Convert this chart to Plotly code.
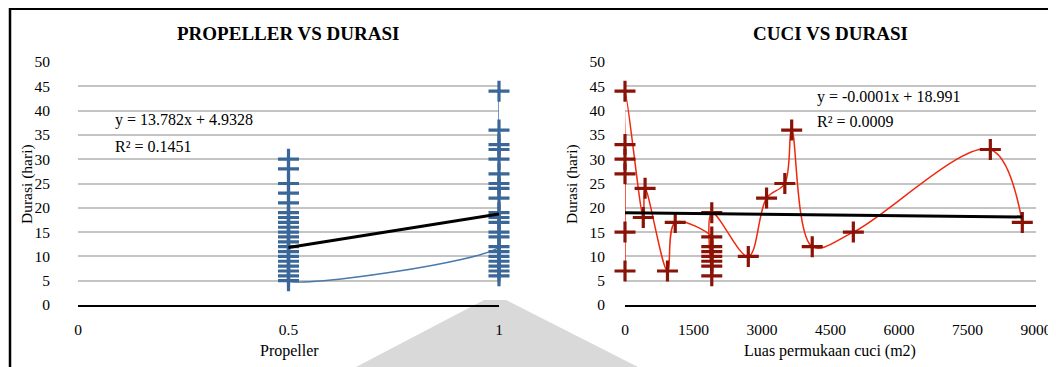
import plotly.graph_objects as go

W, H = 1056, 367
OX, OY = 8, 8  # page body margin offset

# ---------------- data ----------------
prop_x_half = [0.5] * 20
prop_y_half = [30, 28, 25, 23, 21, 19, 18, 17, 16, 15, 14, 13, 12, 11, 10, 9, 8, 7, 6, 5]
prop_x_one = [1] * 21
prop_y_one = [12, 14, 15, 17, 18, 19, 22, 24, 25, 27, 30, 32, 33, 36, 44, 11, 10, 9, 8, 7, 6]
prop_x = prop_x_half + prop_x_one
prop_y = prop_y_half + prop_y_one
prop_slope, prop_intercept = 13.782, 4.9328

cuci_x = [0, 0, 0, 0, 0, 0, 400, 440, 930, 1100,
          1900, 1900, 1900, 1900, 1900, 1900, 1900, 1900,
          2700, 3100, 3500, 3650, 4100, 5000, 8000, 8700]
cuci_y = [7, 15, 27, 30, 33, 44, 18, 24, 7, 17,
          14, 12, 11, 10, 9, 8, 6, 19,
          10, 22, 25, 36, 12, 15, 32, 17]
cuci_slope, cuci_intercept = -0.0001, 18.991

y_ticks = list(range(0, 55, 5))
prop_ticks = [0, 0.5, 1]
prop_ticktext = ["0", "0.5", "1"]
cuci_ticks = [0, 1500, 3000, 4500, 6000, 7500, 9000]

# ---------------- layout helpers ----------------
def px_x(p):
    return (p - OX) / W

def px_y(p):
    return 1 - (p - OY) / H

FONT = "Liberation Serif"
BLUE_M = "#3B6798"
BLUE_L = "#4A78AE"
RED_M = "#8A1308"
RED_L = "#F0280E"

fig = go.Figure()

# left series
fig.add_trace(go.Scatter(x=prop_x, y=prop_y, mode="lines",
                         line=dict(color=BLUE_L, width=1.5, shape="spline", smoothing=1),
                         cliponaxis=False, xaxis="x", yaxis="y", showlegend=False))
fig.add_trace(go.Scatter(x=prop_x, y=prop_y, mode="markers",
                         marker=dict(symbol="cross-thin", size=15, line=dict(color=BLUE_M, width=3.2)),
                         cliponaxis=False, xaxis="x", yaxis="y", showlegend=False))
tx = [min(prop_x), max(prop_x)]
fig.add_trace(go.Scatter(x=tx, y=[prop_slope * v + prop_intercept for v in tx], mode="lines",
                         line=dict(color="black", width=3), cliponaxis=False,
                         xaxis="x", yaxis="y", showlegend=False))

# right series
fig.add_trace(go.Scatter(x=cuci_x, y=cuci_y, mode="lines",
                         line=dict(color=RED_L, width=1.5, shape="spline", smoothing=1),
                         cliponaxis=False, xaxis="x2", yaxis="y2", showlegend=False))
fig.add_trace(go.Scatter(x=cuci_x, y=cuci_y, mode="markers",
                         marker=dict(symbol="cross-thin", size=15, line=dict(color=RED_M, width=3.2)),
                         cliponaxis=False, xaxis="x2", yaxis="y2", showlegend=False))
cx = [min(cuci_x), max(cuci_x)]
fig.add_trace(go.Scatter(x=cx, y=[cuci_slope * v + cuci_intercept for v in cx], mode="lines",
                         line=dict(color="black", width=3), cliponaxis=False,
                         xaxis="x2", yaxis="y2", showlegend=False))

ydom = [px_y(305), px_y(62)]
common_y = dict(range=[0, 50], tickvals=y_ticks, showgrid=True, gridcolor="#c4c4c4", gridwidth=1.6,
                zeroline=False, showline=False, ticks="", automargin=False,
                tickfont=dict(family=FONT, size=15.5, color="black"), domain=ydom)
common_x = dict(showgrid=False, zeroline=False, showline=True, linecolor="black", linewidth=1.8,
                ticks="", automargin=False,
                tickfont=dict(family=FONT, size=15.5, color="black"), ticklabelstandoff=9)

fig.update_layout(
    width=W, height=H, autosize=False,
    margin=dict(l=0, r=0, t=0, b=0, pad=0, autoexpand=False),
    paper_bgcolor="white", plot_bgcolor="rgba(0,0,0,0)",
    xaxis=dict(domain=[px_x(78), px_x(499)], range=[0, 1], tickvals=prop_ticks,
               ticktext=prop_ticktext, anchor="y", **common_x),
    yaxis=dict(anchor="x", ticklabelstandoff=27, **common_y),
    xaxis2=dict(domain=[px_x(625), px_x(1036)], range=[0, 9000], tickvals=cuci_ticks,
                anchor="y2", **common_x),
    yaxis2=dict(anchor="x2", ticklabelstandoff=19, **common_y),
)

ann = []
def text(x, y, s, size=16, angle=0, xanchor="center"):
    ann.append(dict(x=px_x(x), y=px_y(y), xref="paper", yref="paper", text=s, showarrow=False,
                    xanchor=xanchor, yanchor="middle", textangle=angle,
                    font=dict(family=FONT, size=size, color="black")))

text(288, 33, "<b>PROPELLER VS DURASI</b>", size=19)
text(830, 33, "<b>CUCI VS DURASI</b>", size=19)
text(27, 184, "Durasi (hari)", size=15.5, angle=-90)
text(572, 184, "Durasi (hari)", size=15.5, angle=-90)
text(289, 351, "Propeller")
text(830, 351, "Luas permukaan cuci (m2)")
text(113, 120, "y = 13.782x + 4.9328", xanchor="left")
text(113, 147, "R² = 0.1451", xanchor="left")
text(815, 97, "y = -0.0001x + 18.991", xanchor="left")
text(815, 122, "R² = 0.0009", xanchor="left")
fig.update_layout(annotations=ann)

# frame and watermark
def path(points):
    return "M " + " L ".join(f"{px_x(a):.5f},{px_y(b):.5f}" for a, b in points) + " Z"

shapes = [
    dict(type="path", xref="paper", yref="paper", layer="below",
         path=path([(484, 300), (506, 300), (638, 367), (356, 367)]),
         fillcolor="#d9d9d9", line=dict(width=0)),
    dict(type="line", xref="paper", yref="paper", x0=px_x(9), x1=1, y0=px_y(8.5), y1=px_y(8.5),
         line=dict(color="black", width=3)),
    dict(type="line", xref="paper", yref="paper", x0=px_x(10), x1=px_x(10), y0=px_y(8), y1=0,
         line=dict(color="black", width=2.5)),
]
fig.update_layout(shapes=shapes)

fig.write_html("out.html")
